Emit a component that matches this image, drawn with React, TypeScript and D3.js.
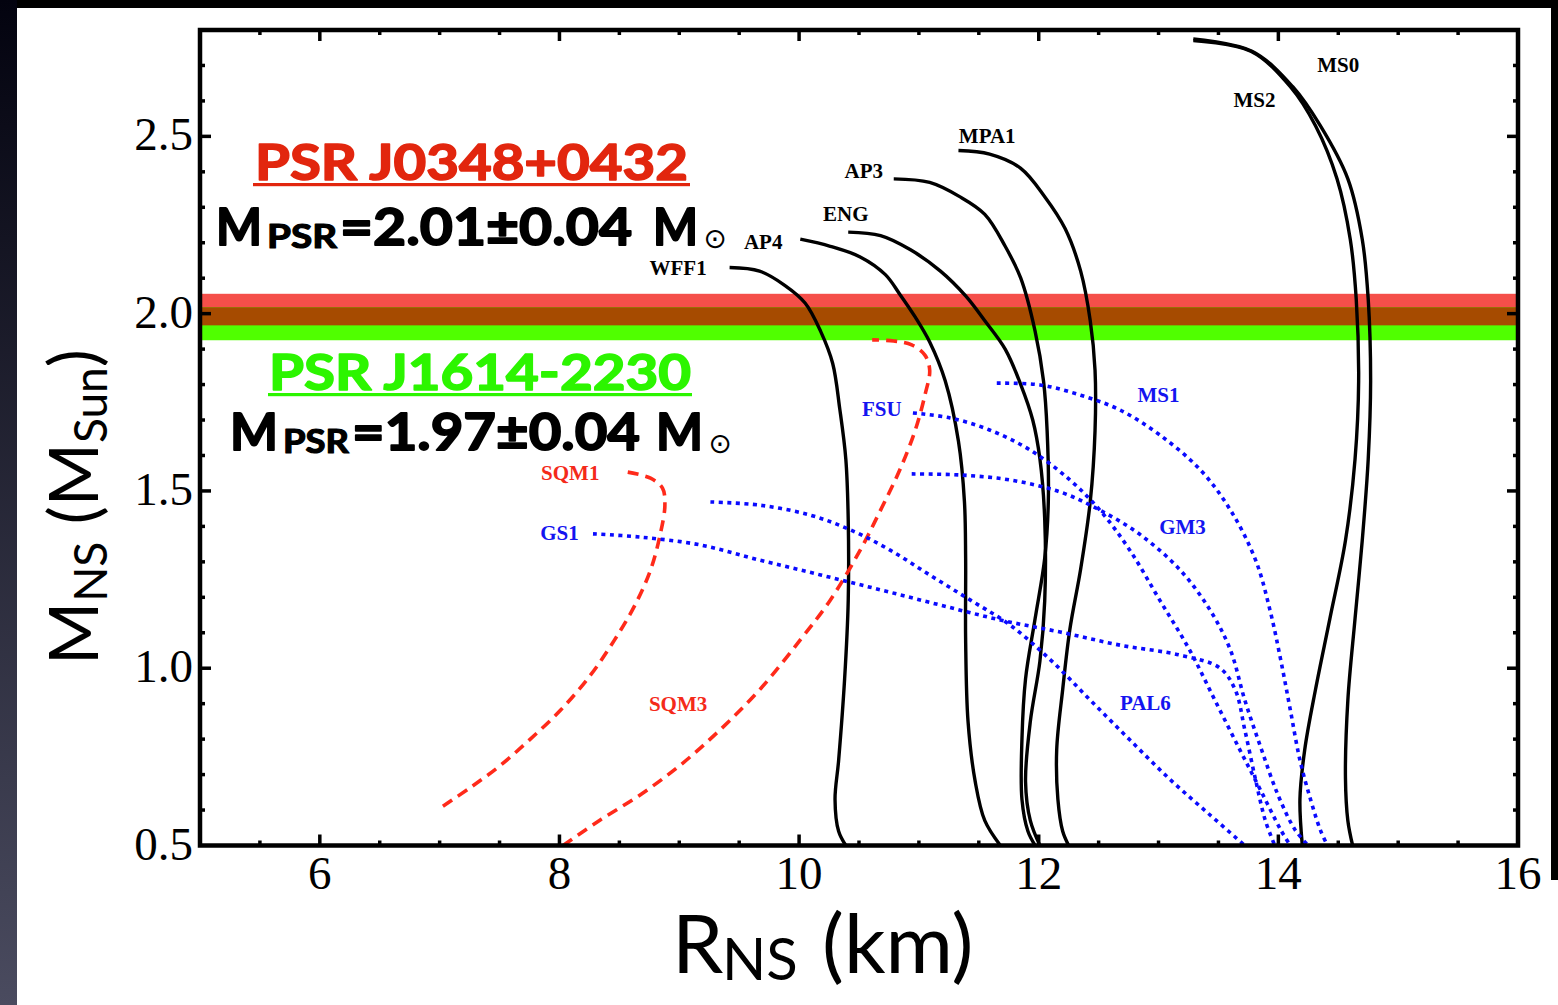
import React from "react";
import * as d3 from "d3";

type Pt = [number, number];

// ---------- data (R in km, M in solar masses) ----------
const xTickValues = [6, 8, 10, 12, 14, 16];
const yTickValues = [0.5, 1.0, 1.5, 2.0, 2.5];
const yTickLabels = ["0.5", "1.0", "1.5", "2.0", "2.5"];

const bandJ0348: [number, number] = [1.967, 2.056];
const bandJ1614: [number, number] = [1.925, 2.018];

const WFF1: Pt[] = [[9.42, 2.13], [9.67, 2.12], [9.88, 2.08], [10.05, 2.03], [10.18, 1.95], [10.28, 1.86], [10.34, 1.73], [10.39, 1.59], [10.41, 1.42], [10.41, 1.19], [10.38, 0.97], [10.33, 0.74], [10.30, 0.63], [10.33, 0.54], [10.39, 0.50]];
const AP4: Pt[] = [[10.01, 2.21], [10.26, 2.19], [10.51, 2.16], [10.72, 2.11], [10.84, 2.055], [10.97, 1.99], [11.09, 1.92], [11.22, 1.81], [11.33, 1.64], [11.38, 1.47], [11.39, 1.31], [11.39, 1.08], [11.41, 0.85], [11.47, 0.68], [11.55, 0.57], [11.68, 0.50]];
const ENG: Pt[] = [[10.41, 2.23], [10.68, 2.22], [10.93, 2.18], [11.18, 2.12], [11.39, 2.05], [11.55, 1.98], [11.72, 1.90], [11.85, 1.80], [11.95, 1.70], [12.01, 1.59], [12.05, 1.42], [12.05, 1.19], [12.01, 1.02], [11.93, 0.85], [11.89, 0.68], [11.93, 0.57], [12.01, 0.50]];
const AP3: Pt[] = [[10.79, 2.38], [11.09, 2.37], [11.34, 2.33], [11.55, 2.28], [11.72, 2.19], [11.85, 2.10], [11.97, 1.95], [12.04, 1.81], [12.07, 1.67], [12.08, 1.47], [12.05, 1.31], [11.97, 1.14], [11.89, 0.97], [11.86, 0.80], [11.86, 0.63], [11.91, 0.54], [11.97, 0.50]];
const MPA1: Pt[] = [[11.33, 2.46], [11.59, 2.45], [11.85, 2.41], [12.05, 2.33], [12.22, 2.24], [12.35, 2.12], [12.43, 1.98], [12.47, 1.84], [12.47, 1.67], [12.43, 1.47], [12.35, 1.28], [12.26, 1.11], [12.20, 0.94], [12.15, 0.77], [12.16, 0.63], [12.20, 0.54], [12.25, 0.50]];
const MS2: Pt[] = [[13.29, 2.77], [13.77, 2.74], [14.10, 2.64], [14.31, 2.53], [14.49, 2.38], [14.60, 2.21], [14.65, 2.04], [14.67, 1.81], [14.64, 1.59], [14.56, 1.36], [14.43, 1.14], [14.31, 0.94], [14.22, 0.77], [14.18, 0.63], [14.20, 0.50]];
const MS0: Pt[] = [[13.29, 2.775], [13.78, 2.74], [14.12, 2.64], [14.35, 2.53], [14.58, 2.38], [14.70, 2.21], [14.75, 2.04], [14.77, 1.81], [14.75, 1.59], [14.70, 1.36], [14.64, 1.14], [14.58, 0.91], [14.56, 0.69], [14.58, 0.57], [14.62, 0.50]];

const SQM1: Pt[] = [[8.57, 1.553], [8.76, 1.536], [8.86, 1.508], [8.88, 1.46], [8.84, 1.376], [8.76, 1.277], [8.63, 1.178], [8.46, 1.08], [8.26, 0.981], [8.01, 0.882], [7.75, 0.798], [7.50, 0.724], [7.25, 0.662], [7.02, 0.609]];
const SQM3: Pt[] = [[8.03, 0.50], [8.34, 0.572], [8.67, 0.642], [9.01, 0.727], [9.34, 0.826], [9.67, 0.939], [10.01, 1.08], [10.26, 1.192], [10.51, 1.333], [10.68, 1.446], [10.84, 1.559], [10.97, 1.672], [11.05, 1.77], [11.09, 1.841], [11.05, 1.883], [10.94, 1.912], [10.79, 1.923], [10.61, 1.926]];

const MS1: Pt[] = [[11.65, 1.804], [12.01, 1.799], [12.35, 1.77], [12.68, 1.728], [13.01, 1.658], [13.35, 1.559], [13.60, 1.446], [13.81, 1.305], [13.93, 1.164], [14.02, 1.023], [14.10, 0.882], [14.18, 0.741], [14.27, 0.628], [14.35, 0.544], [14.41, 0.50]];
const FSU: Pt[] = [[10.95, 1.72], [11.26, 1.706], [11.59, 1.672], [11.93, 1.615], [12.26, 1.531], [12.51, 1.446], [12.76, 1.333], [13.01, 1.192], [13.26, 1.051], [13.47, 0.91], [13.68, 0.769], [13.85, 0.657], [14.02, 0.544], [14.10, 0.50]];
const GM3: Pt[] = [[10.94, 1.548], [11.34, 1.545], [11.76, 1.531], [12.18, 1.497], [12.51, 1.446], [12.85, 1.376], [13.18, 1.277], [13.43, 1.164], [13.60, 1.051], [13.72, 0.91], [13.86, 0.77], [14.00, 0.64], [14.14, 0.544], [14.25, 0.50]];
const PAL6: Pt[] = [[9.26, 1.469], [9.67, 1.46], [10.09, 1.432], [10.43, 1.39], [10.76, 1.333], [11.09, 1.263], [11.43, 1.192], [11.76, 1.122], [12.10, 1.023], [12.43, 0.91], [12.76, 0.798], [13.10, 0.685], [13.43, 0.586], [13.72, 0.50]];
const GS1: Pt[] = [[8.28, 1.379], [8.67, 1.37], [9.17, 1.348], [9.67, 1.305], [10.18, 1.263], [10.68, 1.221], [11.18, 1.178], [11.68, 1.136], [12.18, 1.102], [12.68, 1.065], [13.18, 1.037], [13.51, 1.001], [13.64, 0.939], [13.72, 0.826], [13.81, 0.685], [13.89, 0.572], [13.97, 0.50]];

const blackCurves = [WFF1, AP4, ENG, AP3, MPA1, MS2, MS0];
const redCurves = [SQM1, SQM3];
const blueCurves = [MS1, FSU, GM3, PAL6, GS1];

const blackLabels = ["MS0", "MS2", "MPA1", "AP3", "ENG", "AP4", "WFF1"];
const blackLabelPos: Pt[] = [[14.5, 2.701], [13.8, 2.603], [11.57, 2.501], [10.54, 2.402], [10.39, 2.281], [9.7, 2.202], [8.99, 2.129]];
const blueLabels = ["MS1", "FSU", "GM3", "GS1", "PAL6"];
const blueLabelPos: Pt[] = [[13.0, 1.77], [10.69, 1.731], [13.2, 1.398], [8.0, 1.381], [12.89, 0.902]];
const redLabels = ["SQM1", "SQM3"];
const redLabelPos: Pt[] = [[8.09, 1.55], [8.99, 0.899]];

// ---------- layout ----------
const W = 1558;
const H = 1005;
const left = 200, right = 1518, top = 30, bottom = 845.5;

const x = d3.scaleLinear().domain([5, 16]).range([left, right]);
const y = d3.scaleLinear().domain([0.5, 2.8]).range([bottom, top]);

const line = d3
  .line<Pt>()
  .x((d) => x(d[0]))
  .y((d) => y(d[1]))
  .curve(d3.curveCatmullRom.alpha(0.5));

const serif = "'Liberation Serif', 'Times New Roman', serif";
const sans = "Lato, 'Open Sans', sans-serif";

export default function App() {
  const xMinor = d3.range(5.5, 16, 0.5);
  const yMinor = d3.range(0.6, 2.8, 0.1).map((v) => Math.round(v * 10) / 10);
  const isXMajor = (v: number) => xTickValues.includes(v);
  const isYMajor = (v: number) => yTickValues.some((t) => Math.abs(t - v) < 1e-6);

  const overlap: [number, number] = [
    Math.max(bandJ0348[0], bandJ1614[0]),
    Math.min(bandJ0348[1], bandJ1614[1]),
  ];

  const red = "#e2260e";
  const green = "#2cf500";

  return (
    <svg
      width={W}
      height={H}
      style={{ position: "fixed", left: 0, top: 0, display: "block" }}
    >
      <defs>
        <linearGradient id="leftStrip" x1="0" y1="0" x2="0" y2="1">
          <stop offset="0" stopColor="#03030f" />
          <stop offset="1" stopColor="#4a4b5f" />
        </linearGradient>
        <clipPath id="plotClip">
          <rect x={left} y={top} width={right - left} height={bottom - top} />
        </clipPath>
      </defs>
      <rect x={0} y={0} width={W} height={H} fill="#000" />
      <rect x={0} y={0} width={17} height={H} fill="url(#leftStrip)" />
      <rect x={17} y={8} width={1534} height={H - 8} fill="#fff" />
      <rect x={1551} y={880} width={7} height={H - 880} fill="#fff" />

      {/* bands */}
      <g clipPath="url(#plotClip)">
        <rect x={x(5)} width={x(16) - x(5)} y={y(bandJ0348[1])} height={y(bandJ0348[0]) - y(bandJ0348[1])} fill="#f54f4a" />
        <rect x={x(5)} width={x(16) - x(5)} y={y(bandJ1614[1])} height={y(bandJ1614[0]) - y(bandJ1614[1])} fill="#50ff00" />
        <rect x={x(5)} width={x(16) - x(5)} y={y(overlap[1])} height={y(overlap[0]) - y(overlap[1])} fill="#a64b00" />
      </g>

      {/* curves */}
      <g clipPath="url(#plotClip)" fill="none">
        {blackCurves.map((c, i) => (
          <path key={"k" + i} d={line(c) || ""} stroke="#000" strokeWidth={3.4} />
        ))}
        {redCurves.map((c, i) => (
          <path key={"r" + i} d={line(c) || ""} stroke="#ff2a1a" strokeWidth={3.6} strokeDasharray="11 7" />
        ))}
        {blueCurves.map((c, i) => (
          <path key={"b" + i} d={line(c) || ""} stroke="#0a0aff" strokeWidth={3.6} strokeDasharray="4 4.5" />
        ))}
      </g>

      {/* curve labels */}
      <g fontFamily={serif} fontWeight="bold" fontSize={21} textAnchor="middle" dominantBaseline="central">
        {blackLabels.map((t, i) => (
          <text key={t} x={x(blackLabelPos[i][0])} y={y(blackLabelPos[i][1])} fill="#000">{t}</text>
        ))}
        {blueLabels.map((t, i) => (
          <text key={t} x={x(blueLabelPos[i][0])} y={y(blueLabelPos[i][1])} fill="#1414f0">{t}</text>
        ))}
        {redLabels.map((t, i) => (
          <text key={t} x={x(redLabelPos[i][0])} y={y(redLabelPos[i][1])} fill="#f42a1a">{t}</text>
        ))}
      </g>

      {/* frame */}
      <rect x={left} y={top} width={right - left} height={bottom - top} fill="none" stroke="#000" strokeWidth={4.5} />

      {/* ticks */}
      <g stroke="#000" strokeWidth={3.5}>
        {xMinor.map((v) => {
          const L = isXMajor(v) ? 11 : 5;
          return (
            <g key={"xt" + v}>
              <line x1={x(v)} x2={x(v)} y1={bottom} y2={bottom - L} />
              <line x1={x(v)} x2={x(v)} y1={top} y2={top + L} />
            </g>
          );
        })}
        {yMinor.map((v) => {
          const L = isYMajor(v) ? 11 : 5;
          return (
            <g key={"yt" + v}>
              <line x1={left} x2={left + L} y1={y(v)} y2={y(v)} />
              <line x1={right} x2={right - L} y1={y(v)} y2={y(v)} />
            </g>
          );
        })}
      </g>

      {/* tick labels */}
      <g fontFamily={serif} fontSize={47} fill="#000">
        {xTickValues.map((v) => (
          <text key={"xl" + v} x={x(v)} y={889} textAnchor="middle">{v}</text>
        ))}
        {yTickValues.map((v, i) => (
          <text key={"yl" + v} x={193} y={y(v) + 14} textAnchor="end">{yTickLabels[i]}</text>
        ))}
      </g>

      {/* axis titles */}
      <text fontFamily={sans} fontSize={82} fill="#000" y={973}>
        <tspan x={672}>R</tspan>
        <tspan x={722} fontSize={58} dy={7}>NS</tspan>
        <tspan x={822} dy={-7}>(km)</tspan>
      </text>
      <text fontFamily={sans} fontSize={68} fill="#000" transform="translate(98,665) rotate(-90)">
        <tspan>M</tspan>
        <tspan fontSize={46} dy={9}>NS</tspan>
        <tspan dy={-9}> (M</tspan>
        <tspan fontSize={46} dy={9}>Sun</tspan>
        <tspan dy={-9}>)</tspan>
      </text>

      {/* PSR annotations */}
      <g fontFamily={sans} fontWeight="bold" strokeLinejoin="round">
        <text x={255} y={180} fontSize={50} fill={red} stroke={red} strokeWidth={1.6} textLength={433} lengthAdjust="spacingAndGlyphs">PSR J0348+0432</text>
        <rect x={253} y={183} width={437} height={3.2} fill={red} />
        <g fill="#000" stroke="#000" strokeWidth={1.8}>
          <text x={216} y={245} fontSize={52} textLength={46} lengthAdjust="spacingAndGlyphs">M</text>
          <text x={267} y={248} fontSize={33} strokeWidth={1.2} textLength={70} lengthAdjust="spacingAndGlyphs">PSR</text>
          <text x={340} y={245} fontSize={52} textLength={292} lengthAdjust="spacingAndGlyphs">=2.01±0.04</text>
          <text x={653} y={245} fontSize={52} textLength={45} lengthAdjust="spacingAndGlyphs">M</text>
        </g>
        <text x={715} y={248} fontSize={28} fill="#000" fontWeight="normal" textAnchor="middle" fontFamily="'DejaVu Sans'">⊙</text>

        <text x={269} y={390} fontSize={50} fill={green} stroke={green} strokeWidth={1.6} textLength={422} lengthAdjust="spacingAndGlyphs">PSR J1614-2230</text>
        <rect x={268} y={393} width={424} height={3.2} fill={green} />
        <g fill="#000" stroke="#000" strokeWidth={1.8}>
          <text x={230} y={450} fontSize={52} textLength={48} lengthAdjust="spacingAndGlyphs">M</text>
          <text x={283} y={453} fontSize={33} strokeWidth={1.2} textLength={66} lengthAdjust="spacingAndGlyphs">PSR</text>
          <text x={352} y={450} fontSize={52} textLength={288} lengthAdjust="spacingAndGlyphs">=1.97±0.04</text>
          <text x={656} y={450} fontSize={52} textLength={47} lengthAdjust="spacingAndGlyphs">M</text>
        </g>
        <text x={720} y={453} fontSize={28} fill="#000" fontWeight="normal" textAnchor="middle" fontFamily="'DejaVu Sans'">⊙</text>
      </g>
    </svg>
  );
}
